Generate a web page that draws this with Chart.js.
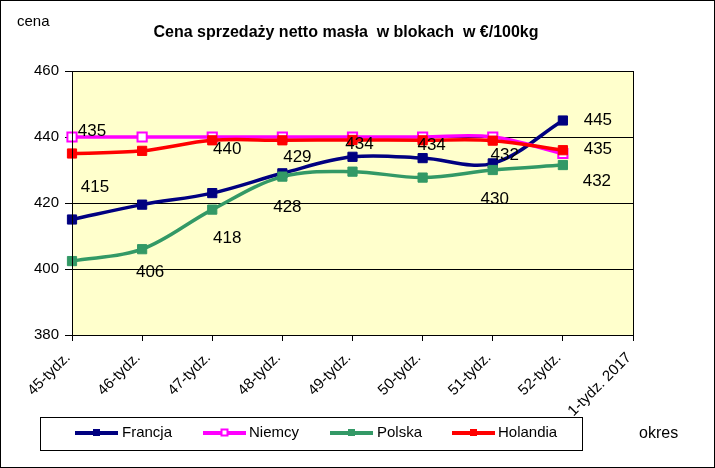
<!DOCTYPE html>
<html><head><meta charset="utf-8">
<script src="https://cdn.jsdelivr.net/npm/chart.js@4/dist/chart.umd.min.js"></script>
<style>html,body{margin:0;padding:0;background:#fff}canvas{display:block}</style>
</head><body>
<canvas id="c" width="715" height="468"></canvas>
<script>
const categories = ['45-tydz.', '46-tydz.', '47-tydz.', '48-tydz.', '49-tydz.', '50-tydz.', '51-tydz.', '52-tydz.', '1-tydz. 2017'];
const francja  = [415, 419.5, 423, 429, 434, 433.6, 432, 445, null];
const niemcy   = [440, 440, 440, 440, 440, 440, 440, 435, null];
const polska   = [402.4, 406, 418, 428, 429.5, 427.7, 430, 431.5, null];
const holandia = [435, 435.8, 439, 439, 439.1, 439, 438.9, 436, null];
const yTicks = [380, 400, 420, 440, 460];
const titleText = 'Cena sprzedaży netto masła  w blokach  w €/100kg';

const FONT = '"Liberation Sans", Arial, sans-serif';

// which point labels are shown: [datasetIndex, pointIndex, dx, dy]
const labelSpots = [
  [3, 0, 20, -22],
  [0, 0, 23, -32],
  [1, 2, 15, 12],
  [0, 3, 15, -16],
  [0, 4, 7, -12],
  [0, 5, 9, -13],
  [0, 6, 12, -8],
  [0, 7, 35, 0],
  [1, 7, 35, -4],
  [2, 1, 8, 23],
  [2, 2, 15, 29],
  [2, 3, 5, 31],
  [2, 6, 2, 29],
  [2, 7, 34, 16]
];

const decor = {
  id: 'decor',
  beforeDraw(chart) {
    const ctx = chart.ctx, a = chart.chartArea;
    ctx.save();
    ctx.fillStyle = '#fff';
    ctx.fillRect(0, 0, chart.width, chart.height);
    ctx.fillStyle = '#FFFFCC';
    ctx.fillRect(a.left, a.top, a.right - a.left, a.bottom - a.top);
    ctx.restore();
  },
  afterDatasetsDraw(chart) {
    const ctx = chart.ctx;
    ctx.save();
    ctx.font = '17px ' + FONT;
    ctx.fillStyle = '#000';
    ctx.textAlign = 'center';
    ctx.textBaseline = 'middle';
    labelSpots.forEach(([d, i, dx, dy]) => {
      const el = chart.getDatasetMeta(d).data[i];
      const v = chart.data.datasets[d].data[i];
      ctx.fillText(String(Math.round(v)), el.x + dx, el.y + dy);
    });
    ctx.restore();
  },
  afterDraw(chart) {
    const ctx = chart.ctx, a = chart.chartArea;
    ctx.save();
    ctx.strokeStyle = '#000';
    ctx.lineWidth = 1;
    ctx.strokeRect(Math.round(a.left) + 0.5, Math.round(a.top) + 0.5, Math.round(a.right - a.left), Math.round(a.bottom - a.top));
    ctx.strokeRect(0.5, 0.5, chart.width - 1, chart.height - 1);
    ctx.fillStyle = '#000';
    ctx.textBaseline = 'middle';
    ctx.textAlign = 'center';
    ctx.font = 'bold 16px ' + FONT;
    ctx.fillText(titleText, 346, 33);
    ctx.textAlign = 'left';
    ctx.font = '15px ' + FONT;
    ctx.fillText('cena', 17, 22);
    ctx.font = '16px ' + FONT;
    ctx.fillText('okres', 639, 434);
    // legend
    ctx.strokeRect(40.5, 417.5, 542, 33);
    const items = [[75, 122], [203, 249], [330, 377], [452, 498]];
    const ly = 433;
    chart.data.datasets.forEach((ds, k) => {
      const [lx, tx] = items[k];
      ctx.strokeStyle = ds.borderColor;
      ctx.lineWidth = 4;
      ctx.beginPath(); ctx.moveTo(lx, ly); ctx.lineTo(lx + 43, ly); ctx.stroke();
      ctx.fillStyle = ds.pointBackgroundColor;
      ctx.lineWidth = ds.pointBorderWidth;
      ctx.fillRect(lx + 18.5, ly - 3.5, 6, 6);
      ctx.strokeRect(lx + 18.5, ly - 3.5, 6, 6);
      ctx.fillStyle = '#000';
      ctx.font = '15px ' + FONT;
      ctx.textBaseline = 'middle';
      ctx.fillText(ds.label, tx, ly);
    });
    ctx.restore();
  }
};

function ds(label, data, color, fill, order, bw) {
  return {
    label, data, order,
    borderColor: color,
    backgroundColor: color,
    pointBackgroundColor: fill,
    pointBorderColor: color,
    pointBorderWidth: bw,
    pointStyle: 'rect',
    pointRadius: 6.5,
    pointHoverRadius: 6.5,
    borderWidth: 3.5,
    tension: 0.35,
    fill: false,
    spanGaps: false
  };
}

new Chart(document.getElementById('c'), {
  type: 'line',
  data: {
    labels: categories,
    datasets: [
      ds('Francja', francja, '#000080', '#000080', 4, 1),
      ds('Niemcy', niemcy, '#FF00FF', '#FFFFFF', 3, 2),
      ds('Polska', polska, '#339966', '#339966', 2, 1),
      ds('Holandia', holandia, '#FF0000', '#FF0000', 1, 1)
    ]
  },
  options: {
    responsive: false,
    animation: false,
    layout: { padding: { top: 71, right: 82, left: 0, bottom: 0 } },
    plugins: { legend: { display: false }, title: { display: false }, tooltip: { enabled: false } },
    scales: {
      x: {
        offset: false,
        afterFit(s) { s.height = 133; },
        grid: { display: true, drawOnChartArea: false, color: '#000', tickLength: 6 },
        border: { color: '#000' },
        ticks: { color: '#000', font: { family: FONT, size: 15 }, minRotation: 45, maxRotation: 45, autoSkip: false, labelOffset: -4, padding: 8 }
      },
      y: {
        min: 380, max: 460,
        afterFit(s) { s.width = 72; },
        afterBuildTicks(s) { s.ticks = yTicks.map(v => ({ value: v })); },
        grid: { color: '#000', tickLength: 7, drawTicks: true },
        border: { color: '#000' },
        ticks: { color: '#000', font: { family: FONT, size: 15 }, padding: 6 }
      }
    }
  },
  plugins: [decor]
});
</script>
</body></html>
